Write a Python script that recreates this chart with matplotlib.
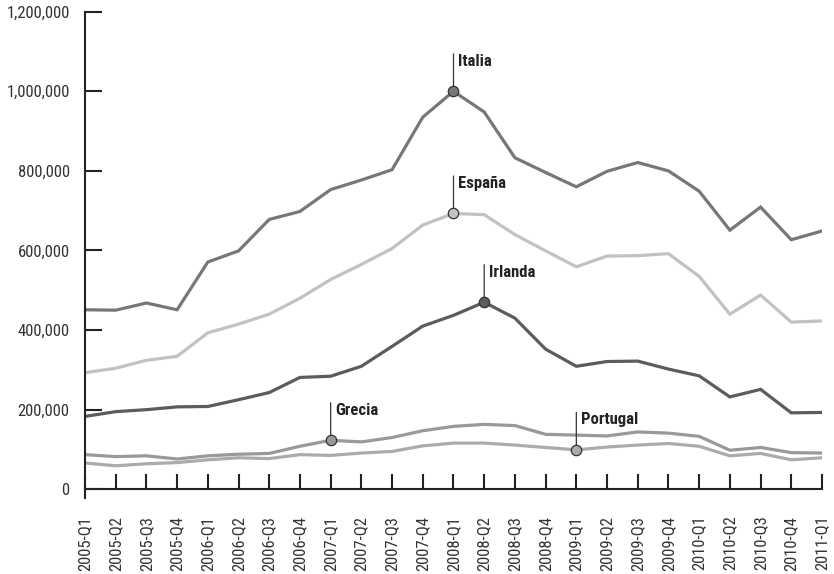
import os
import matplotlib
matplotlib.use("Agg")
import matplotlib.pyplot as plt
from matplotlib import font_manager
from matplotlib.ticker import FuncFormatter

# look for a narrow / condensed face, the chart uses a condensed type
def find_font(bold):
    keys = ['Liberation Sans Narrow', 'Roboto Condensed', 'Open Sans Condensed',
            'Noto Sans Condensed', 'DejaVu Sans Condensed', 'Condensed', 'Narrow']
    found = []
    for f in font_manager.fontManager.ttflist:
        tag = f.name + ' ' + os.path.basename(f.fname) + ' ' + str(f.stretch)
        if f.style != 'normal':
            continue
        w = f.weight if isinstance(f.weight, int) else (700 if 'bold' in str(f.weight) else 400)
        if bold and w < 600:
            continue
        if not bold and (w < 350 or w > 500):
            continue
        for n, k in enumerate(keys):
            if k.lower() in tag.lower() or (k == 'Condensed' and 'condensed' in tag.lower()):
                found.append((n, abs(w - (700 if bold else 400)), f.fname))
                break
    if not found:
        return None
    found.sort()
    return found[0][2]

reg_path = find_font(False)
bold_path = find_font(True)
if reg_path:
    fp_reg = font_manager.FontProperties(fname=reg_path, size=12)
    tick_size = 12
else:
    fp_reg = font_manager.FontProperties(family='DejaVu Sans', size=9.5)
    tick_size = 9.5
if bold_path:
    fp_bold = font_manager.FontProperties(fname=bold_path, size=12)
else:
    fp_bold = font_manager.FontProperties(family='DejaVu Sans', weight='bold', size=10)

# quarters 2005-Q1 .. 2011-Q1
quarters = []
for year in range(2005, 2012):
    for q in range(1, 5):
        quarters.append("{0}-Q{1}".format(year, q))
quarters = quarters[:25]

italia = [451000, 450000, 468000, 451000, 571000, 599000, 678000, 698000, 753000, 777000,
          803000, 935000, 1000000, 948000, 833000, 796000, 760000, 799000, 821000, 800000,
          749000, 651000, 709000, 627000, 649000]
espana = [293000, 304000, 324000, 334000, 393000, 415000, 440000, 480000, 527000, 565000,
          605000, 664000, 693000, 690000, 640000, 599000, 559000, 586000, 587000, 592000,
          535000, 440000, 488000, 420000, 423000]
irlanda = [183000, 195000, 200000, 207000, 208000, 225000, 243000, 281000, 284000, 309000,
           359000, 410000, 437000, 470000, 430000, 352000, 309000, 321000, 322000, 302000,
           285000, 232000, 251000, 192000, 193000]
grecia = [87000, 82000, 84000, 76000, 84000, 88000, 90000, 108000, 123000, 119000,
          130000, 147000, 158000, 163000, 160000, 138000, 136000, 134000, 144000, 141000,
          133000, 98000, 105000, 92000, 91000]
portugal = [66000, 59000, 64000, 67000, 74000, 79000, 77000, 87000, 85000, 91000,
            95000, 109000, 116000, 116000, 111000, 105000, 99000, 106000, 111000, 115000,
            108000, 84000, 90000, 74000, 79000]

names = ['Italia', 'España', 'Irlanda', 'Grecia', 'Portugal']
series = [italia, espana, irlanda, grecia, portugal]
colors = ['#777777', '#c2c2c2', '#5c5c5c', '#999999', '#ababab']
label_at = [12, 12, 13, 8, 16]   # index of the quarter that gets the callout

fig = plt.figure(figsize=(8.34, 5.74), dpi=100)
ax = fig.add_axes([0.1019, 0.1324, 0.8837, 0.8472])

x = list(range(len(quarters)))
# draw lower series first so the darker ones sit on top
for i in [4, 3, 1, 0, 2]:
    ax.plot(x, series[i], color=colors[i], lw=2.3, solid_joinstyle='miter', zorder=2)

for i in range(len(names)):
    k = label_at[i]
    v = series[i][k]
    ax.annotate('', xy=(k, v), xytext=(0, 27), textcoords='offset points',
                arrowprops=dict(arrowstyle='-', color='#333333', lw=0.9,
                                shrinkA=0, shrinkB=0), zorder=3)
    ax.plot([k], [v], marker='o', ms=7.5, mfc=colors[i], mec='#333333', mew=0.9, zorder=4)
    ax.annotate(names[i], xy=(k, v), xytext=(3.5, 27), textcoords='offset points',
                ha='left', va='top', fontproperties=fp_bold, color='#222222')

ax.set_xlim(0, 24)
ax.set_ylim(-22000, 1200000)

ax.spines['top'].set_visible(False)
ax.spines['right'].set_visible(False)
ax.spines['bottom'].set_position(('data', 0))
for s in ['left', 'bottom']:
    ax.spines[s].set_linewidth(1.5)
    ax.spines[s].set_color('#222222')

ax.set_yticks([0, 200000, 400000, 600000, 800000, 1000000, 1200000])
ax.yaxis.set_major_formatter(FuncFormatter(lambda v, p: "{:,.0f}".format(v)))
ax.set_xticks(x)
ax.set_xticklabels(quarters, rotation=90)

ax.tick_params(axis='y', direction='in', length=12, width=1.5, color='#222222',
               pad=11, labelcolor='#333333')
ax.tick_params(axis='x', direction='in', length=11, width=1.5, color='#222222',
               pad=19, labelcolor='#333333')
for t in ax.get_xticklabels() + ax.get_yticklabels():
    t.set_fontproperties(fp_reg)

fig.savefig("out.png", dpi=100)
